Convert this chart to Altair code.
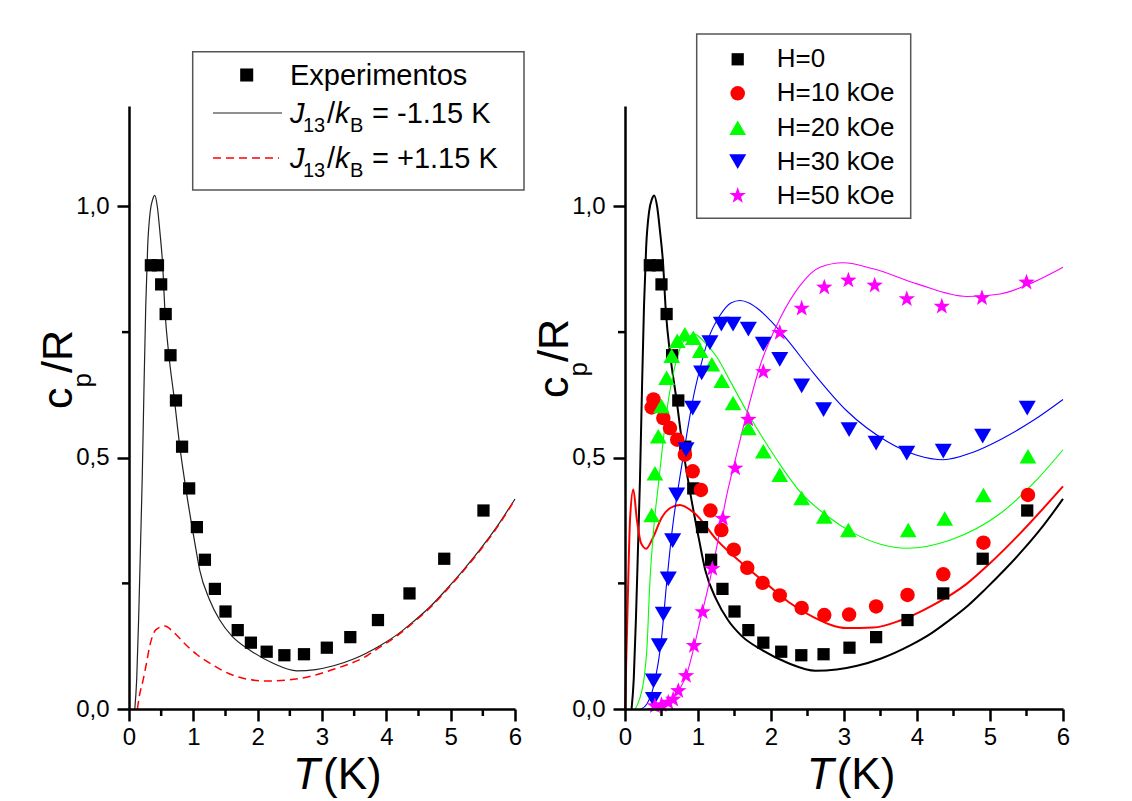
import altair as alt
import pandas as pd

FONT = "Liberation Sans"

# ---------------- data ----------------
# experimental points, H = 0 (left panel and right panel)
T0 = [0.34, 0.45, 0.50, 0.57, 0.645, 0.73, 0.825, 0.935, 1.055, 1.18, 1.335, 1.50,
      1.69, 1.895, 2.14, 2.415, 2.72, 3.075, 3.44, 3.87, 4.36, 4.90, 5.51]
C0 = [0.883, 0.883, 0.845, 0.786, 0.704, 0.614, 0.522, 0.439, 0.362, 0.297, 0.239, 0.194,
      0.157, 0.132, 0.114, 0.107, 0.109, 0.122, 0.143, 0.177, 0.230, 0.299, 0.395]

# H = 10 kOe
T10 = [0.365, 0.39, 0.525, 0.616, 0.716, 0.82, 0.927, 1.04, 1.17, 1.32, 1.49, 1.675,
       1.885, 2.12, 2.42, 2.73, 3.07, 3.44, 3.87, 4.36, 4.91, 5.52]
C10 = [0.600, 0.616, 0.579, 0.559, 0.536, 0.506, 0.473, 0.436, 0.395, 0.356, 0.317, 0.281,
       0.251, 0.226, 0.201, 0.187, 0.188, 0.204, 0.227, 0.268, 0.331, 0.426]

# H = 20 kOe
T20 = [0.365, 0.41, 0.456, 0.50, 0.57, 0.64, 0.716, 0.82, 0.936, 1.03, 1.19, 1.325, 1.48,
       1.69, 1.895, 2.12, 2.42, 2.73, 3.06, 3.88, 4.38, 4.91, 5.52]
C20 = [0.386, 0.469, 0.543, 0.603, 0.659, 0.703, 0.733, 0.746, 0.739, 0.713, 0.686, 0.653, 0.609,
       0.559, 0.513, 0.466, 0.420, 0.383, 0.356, 0.356, 0.379, 0.426, 0.503]

# H = 30 kOe
T30 = [0.39, 0.39, 0.47, 0.525, 0.593, 0.653, 0.708, 0.836, 0.927, 1.05, 1.164, 1.32, 1.48,
       1.69, 1.895, 2.12, 2.42, 2.72, 3.07, 3.44, 3.86, 4.36, 4.90, 5.51]
C30 = [0.019, 0.056, 0.126, 0.189, 0.259, 0.335, 0.426, 0.516, 0.599, 0.669, 0.729, 0.766, 0.766,
       0.756, 0.726, 0.696, 0.643, 0.596, 0.556, 0.529, 0.509, 0.513, 0.543, 0.599]

# H = 50 kOe
T50 = [0.41, 0.50, 0.593, 0.66, 0.73, 0.836, 0.945, 1.064, 1.196, 1.34, 1.51, 1.69, 1.895,
       2.12, 2.42, 2.73, 3.06, 3.42, 3.86, 4.34, 4.89, 5.50]
C50 = [0.006, 0.008, 0.013, 0.019, 0.036, 0.066, 0.126, 0.193, 0.279, 0.379, 0.479, 0.576, 0.671,
       0.749, 0.797, 0.839, 0.853, 0.843, 0.816, 0.801, 0.818, 0.849]

# theory, J13/kB = -1.15 K (also the H = 0 curve of the right panel)
TB = [0.09, 0.12, 0.15, 0.18, 0.205, 0.23, 0.26, 0.29, 0.33, 0.37, 0.40, 0.44, 0.48, 0.52,
      0.56, 0.62, 0.707, 0.79, 0.883, 1.017, 1.10, 1.25, 1.41, 1.60, 1.88, 2.24, 2.61, 2.90,
      3.18, 3.50, 3.90, 4.20, 4.42, 4.70, 4.94, 5.20, 5.46, 5.73, 6.0]
CB = [0.0, 0.06, 0.18, 0.33, 0.456, 0.62, 0.80, 0.92, 0.99, 1.015, 1.022, 1.0, 0.95, 0.89,
      0.79, 0.704, 0.614, 0.522, 0.439, 0.335, 0.276, 0.218, 0.177, 0.145, 0.117, 0.091, 0.076,
      0.0785, 0.086, 0.100, 0.126, 0.151, 0.174, 0.206, 0.239, 0.277, 0.318, 0.365, 0.418]

# theory, J13/kB = +1.15 K
TR = [0.13, 0.16, 0.22, 0.27, 0.32, 0.42, 0.556, 0.70, 0.89, 1.06, 1.26, 1.62, 2.14, 2.66,
      3.18, 3.70, 3.90, 4.20, 4.42, 4.70, 4.94, 5.20, 5.46, 5.73, 6.0]
CR = [0.0, 0.025, 0.058, 0.09, 0.124, 0.158, 0.165, 0.152, 0.127, 0.108, 0.091, 0.067, 0.0556,
      0.061, 0.079, 0.106, 0.123, 0.149, 0.172, 0.204, 0.237, 0.275, 0.316, 0.363, 0.417]

# theory curves of the right panel
T10L = [0.0, 0.03, 0.07, 0.114, 0.16, 0.22, 0.29, 0.38, 0.50, 0.62, 0.75, 0.95, 1.26, 1.60,
        1.94, 2.25, 2.58, 3.04, 3.40, 3.77, 4.20, 4.68, 5.00, 5.37, 6.0]
C10L = [0.0, 0.17, 0.38, 0.437, 0.38, 0.33, 0.319, 0.34, 0.38, 0.40, 0.406, 0.39, 0.336, 0.29,
        0.249, 0.212, 0.183, 0.161, 0.162, 0.176, 0.205, 0.249, 0.29, 0.343, 0.443]
T20L = [0.14, 0.20, 0.26, 0.30, 0.34, 0.40, 0.46, 0.52, 0.60, 0.68, 0.76, 0.86, 0.96, 1.10,
        1.26, 1.45, 1.67, 2.08, 2.40, 2.76, 3.13, 3.50, 3.86, 4.45, 5.14, 5.64, 6.0]
C20L = [0.0, 0.02, 0.06, 0.12, 0.25, 0.37, 0.45, 0.53, 0.62, 0.68, 0.72, 0.74, 0.745, 0.728,
        0.700, 0.650, 0.592, 0.496, 0.432, 0.385, 0.350, 0.328, 0.320, 0.336, 0.389, 0.456, 0.516]
T30L = [0.22, 0.30, 0.40, 0.50, 0.57, 0.65, 0.75, 0.85, 0.95, 1.05, 1.15, 1.30, 1.45, 1.575,
        1.70, 1.85, 2.00, 2.21, 2.58, 3.04, 3.585, 4.00, 4.36, 4.75, 5.14, 5.60, 6.0]
C30L = [0.0, 0.01, 0.05, 0.14, 0.25, 0.36, 0.46, 0.55, 0.63, 0.69, 0.74, 0.783, 0.808, 0.813,
        0.808, 0.793, 0.772, 0.737, 0.669, 0.593, 0.533, 0.505, 0.496, 0.51, 0.536, 0.575, 0.616]
T50L = [0.30, 0.50, 0.65, 0.75, 0.845, 0.94, 1.03, 1.12, 1.21, 1.30, 1.39, 1.50, 1.67, 1.85,
        2.12, 2.40, 2.67, 2.99, 3.40, 4.00, 4.68, 5.14, 5.59, 6.0]
C50L = [0.0, 0.005, 0.02, 0.04, 0.069, 0.12, 0.176, 0.23, 0.289, 0.355, 0.423, 0.49, 0.589,
        0.683, 0.776, 0.843, 0.879, 0.888, 0.876, 0.846, 0.821, 0.826, 0.849, 0.879]

X_TICKS = [0, 1, 2, 3, 4, 5, 6]
X_MINOR = [0.5, 1.5, 2.5, 3.5, 4.5, 5.5]
Y_TICKS = [0.0, 0.5, 1.0]
Y_MINOR = [0.25, 0.75]

RIGHT_LABELS = ["H=0", "H=10 kOe", "H=20 kOe", "H=30 kOe", "H=50 kOe"]
RIGHT_COLORS = ["#000000", "#ff0000", "#00ff00", "#0000ff", "#ff00ff"]

STAR = ("M0,-1L0.2351,-0.3236L0.9511,-0.309L0.3804,0.1236L0.5878,0.809L0,0.4"
        "L-0.5878,0.809L-0.3804,0.1236L-0.9511,-0.309L-0.2351,-0.3236Z")
RIGHT_SHAPES = ["square", "circle", "triangle-up", "triangle-down", STAR]
RIGHT_SIZES = [150, 210, 280, 290, 300]

one = pd.DataFrame({"k": [0]})

xscale = alt.Scale(domain=[0, 6], nice=False, zero=False)
yscale = alt.Scale(domain=[0, 1.2], nice=False, zero=False)

axis_style = dict(title=None, grid=False, domain=True, ticks=True,
                  domainColor="#000000", domainWidth=2.5, domainOpacity=1,
                  tickColor="#000000", tickWidth=2.5, tickSize=12, tickOpacity=1,
                  labelFontSize=24, labelFont=FONT, labelColor="#000000",
                  labelFlush=False, labelOverlap=False, zindex=1)
xaxis = alt.Axis(values=X_TICKS, format="d", labelPadding=4, **axis_style)
yaxis = alt.Axis(values=Y_TICKS, labelExpr="replace(format(datum.value, '.1f'), '.', ',')",
                 labelPadding=8, **axis_style)


def X(field="T"):
    return alt.X(f"{field}:Q", scale=xscale, axis=xaxis)


def Y(field="cp"):
    return alt.Y(f"{field}:Q", scale=yscale, axis=yaxis)


def line(T, C, color, width, dash=None):
    kw = dict(color=color, strokeWidth=width, interpolate="monotone")
    if dash:
        kw["strokeDash"] = dash
    return alt.Chart(pd.DataFrame({"T": T, "cp": C})).mark_line(**kw).encode(x=X(), y=Y())


def pts(T, C, color, shape, size):
    return alt.Chart(pd.DataFrame({"T": T, "cp": C})).mark_point(
        shape=shape, filled=True, size=size, color=color, opacity=1, strokeWidth=0
    ).encode(x=X(), y=Y())


def minor_ticks(H):
    mx = alt.Chart(pd.DataFrame({"T": X_MINOR})).mark_rule(
        color="#000000", strokeWidth=2.5, opacity=1).encode(
        x=X(), y=alt.value(H), y2=alt.value(H + 7))
    my = alt.Chart(pd.DataFrame({"cp": Y_MINOR})).mark_rule(
        color="#000000", strokeWidth=2.5, opacity=1).encode(
        y=Y(), x=alt.value(0), x2=alt.value(-7))
    return [mx, my]


def txt(s, x, y, size, italic=False, angle=None, align="left", baseline="middle"):
    kw = dict(text=s, fontSize=size, font=FONT, color="#000000", align=align, baseline=baseline)
    if italic:
        kw["fontStyle"] = "italic"
    if angle is not None:
        kw["angle"] = angle
    return alt.Chart(one).mark_text(**kw).encode(x=alt.value(x), y=alt.value(y))


def anchor(x, y):
    return alt.Chart(one).mark_point(opacity=0, size=4).encode(x=alt.value(x), y=alt.value(y))


def box(x1, x2, y1, y2):
    return alt.Chart(one).mark_rect(fill="white", fillOpacity=0, stroke="#555555",
                                    strokeWidth=1.5).encode(
        x=alt.value(x1), x2=alt.value(x2), y=alt.value(y1), y2=alt.value(y2))


def seg(x1, x2, y, color, width, dash=None):
    kw = dict(color=color, strokeWidth=width)
    if dash:
        kw["strokeDash"] = dash
    return alt.Chart(one).mark_rule(**kw).encode(x=alt.value(x1), x2=alt.value(x2), y=alt.value(y))


def ytitle(start, base=-57):
    return [
        txt("c", base, start, 43, angle=270, baseline="alphabetic"),
        txt("p", base + 19, start - 21.5, 26, angle=270, baseline="alphabetic"),
        txt("/R", base, start - 36, 43, angle=270, baseline="alphabetic"),
    ]


def xtitle(x0, base):
    return [
        txt("T", x0, base, 44, italic=True, baseline="alphabetic"),
        txt("(K)", x0 + 30, base, 44, baseline="alphabetic"),
    ]


def jlabel(y, value):
    return [
        txt("J", 161, y, 29, italic=True),
        txt("13", 174, y + 12, 20),
        txt("/", 198, y, 29),
        txt("k", 206, y, 29, italic=True),
        txt("B", 221, y + 12, 20),
        txt(value, 243, y, 29),
    ]


H = 603

# ---------------- left panel ----------------
W1 = 386
left_layers = [
    anchor(-120, -97), anchor(410, -97),
    line(TB, CB, "#222222", 1.2),
    line(TR, CR, "#ff0000", 1.5, dash=[8, 5]),
    pts(T0, C0, "#000000", "square", 150),
    *minor_ticks(H),
    *ytitle(303),
    *xtitle(164, 683),
    box(63.7, 395, -54.3, 84),
    alt.Chart(one).mark_point(shape="square", filled=True, size=170, color="#000000",
                              opacity=1, strokeWidth=0).encode(x=alt.value(117.7), y=alt.value(-31)),
    txt("Experimentos", 161, -30.5, 29),
    seg(84, 153, 7, "#222222", 1.2),
    *jlabel(8, "= -1.15 K"),
    seg(84, 150, 52, "#ff0000", 1.5, dash=[8, 5]),
    *jlabel(53, "= +1.15 K"),
]
left = alt.layer(*left_layers).properties(width=W1, height=H)

# ---------------- right panel ----------------
W2 = 438
right_layers = [
    anchor(-110, -97),
    line(TB, CB, "#000000", 2),
    line(T10L, C10L, "#ff0000", 2),
    line(T20L, C20L, "#00ff00", 1.1),
    line(T30L, C30L, "#0000ff", 1.1),
    line(T50L, C50L, "#ff00ff", 1.1),
    pts(T0, C0, RIGHT_COLORS[0], RIGHT_SHAPES[0], RIGHT_SIZES[0]),
    pts(T10, C10, RIGHT_COLORS[1], RIGHT_SHAPES[1], RIGHT_SIZES[1]),
    pts(T20, C20, RIGHT_COLORS[2], RIGHT_SHAPES[2], RIGHT_SIZES[2]),
    pts(T30, C30, RIGHT_COLORS[3], RIGHT_SHAPES[3], RIGHT_SIZES[3]),
    pts(T50, C50, RIGHT_COLORS[4], RIGHT_SHAPES[4], RIGHT_SIZES[4]),
    *minor_ticks(H),
    *ytitle(292),
    *xtitle(181.7, 683),
    box(71.7, 285.7, -72, 112.3),
]
row_y = [-46.7, -12.7, 21.7, 55.7, 89.7]
for lab, col, shp, sz, yy in zip(RIGHT_LABELS, RIGHT_COLORS, RIGHT_SHAPES, RIGHT_SIZES, row_y):
    right_layers.append(
        alt.Chart(one).mark_point(shape=shp, filled=True, size=sz, color=col, opacity=1,
                                  strokeWidth=0).encode(x=alt.value(112.7), y=alt.value(yy)))
    right_layers.append(txt(lab, 151.7, yy, 26))
right = alt.layer(*right_layers).properties(width=W2, height=H)

chart = (
    alt.hconcat(left, right, spacing=-26)
    .properties(padding=0, background="white")
    .configure_view(strokeWidth=0, stroke=None)
    .configure_axis(domainColor="#000000", tickColor="#000000", domainWidth=2.5, tickWidth=2.5,
                    tickSize=12, labelColor="#000000", grid=False)
)

chart.save("out.html", embed_options={"renderer": "svg", "actions": False})
